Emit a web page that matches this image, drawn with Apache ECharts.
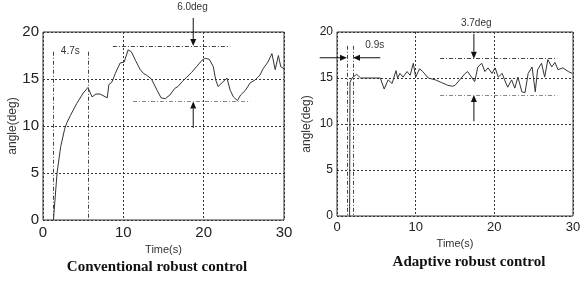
<!DOCTYPE html>
<html><head><meta charset="utf-8">
<script src="https://cdn.jsdelivr.net/npm/echarts@6/dist/echarts.min.js"></script>
<style>html,body{margin:0;padding:0;background:#fff}#c{width:585px;height:282px}</style>
</head><body><div id="c"></div>
<script>
// Conventional robust control (left)
const convT = [1.3,1.75,2.2,2.7,3.0,3.4,4.2,5.0,5.6,6.1,6.6,7.1,8.0,8.2,8.6,9.0,9.6,10.1,10.6,11.0,11.5,12.1,12.5,12.9,13.5,14.2,14.7,15.2,15.8,16.4,16.8,17.3,17.9,18.5,19.1,19.8,20.2,20.7,21.2,21.5,21.8,22.4,22.9,23.3,23.7,24.2,24.6,25.2,25.8,26.4,27.0,27.4,28.0,28.5,28.9,29.3,29.6,30.0];
const convA = [0,5,7.8,9.7,10.4,11.1,12.4,13.5,14.1,13.1,13.4,13.4,13.0,14.4,14.7,15.6,16.7,16.8,18.1,17.9,17.0,16.0,15.6,15.4,15.0,13.8,13.0,12.9,13.3,14.0,14.2,14.7,15.2,15.7,16.3,17.0,17.2,17.1,16.3,14.9,14.2,14.7,15.1,13.8,13.1,12.7,13.3,13.8,14.6,14.9,15.4,16.1,16.8,17.7,16.0,17.5,16.3,16.1];
// Adaptive robust control (right)
const adapT = [1.6,1.65,1.9,2.5,3.0,5.5,6.0,6.5,7.0,7.5,7.7,8.0,8.4,8.9,9.3,9.7,10.0,10.5,10.9,11.6,12.5,13.3,14.1,14.7,15.0,15.6,16.3,16.6,17.1,17.5,17.9,18.4,18.8,19.2,19.7,20.1,20.5,21.0,21.3,21.7,22.2,22.6,23.0,23.5,23.9,24.3,24.8,25.2,25.5,26.0,26.4,26.8,27.3,27.7,28.1,28.7,29.4,29.9];
const adapA = [0,14.5,15.0,15.4,15.0,15.0,13.8,14.8,14.4,15.8,15.0,15.5,15.1,15.7,15.3,16.6,15.1,16.0,15.7,15.0,14.8,14.5,14.2,14.1,14.2,14.8,15.5,15.7,15.1,14.6,16.2,16.6,15.7,16.1,15.5,16.1,15.1,15.5,14.8,14.0,14.8,13.9,15.1,13.5,13.4,15.5,16.2,13.5,15.9,16.6,15.1,17.0,16.2,16.7,15.9,16.1,15.7,15.5];
const xTicks = [0,10,20,30];
const yTicks = [0,5,10,15,20];
// annotation values
const convV = [1.3, 5.6], convVTop = 17.9;
const convH = [[18.5, 8.7, 23.3], [12.6, 11.2, 25.8]];
const convArrowX = 18.7, convArrowFrom = [21.5, 9.8];
const adapV = [1.27, 2.03], adapVTop = 18.5;
const adapH = [[17.1, 13.1, 28.0], [13.15, 13.1, 28.0]];
const adapArrowX = 17.4, adapArrowFrom = [19.8, 10.3];
const adapHArrowY = 17.2, adapHArrowFrom = [-2.2, 5.5];
// annotation texts: [text, x, y] in data units
const convNotes = [['4.7s', 3.4, 18.0], ['6.0deg', 18.6, 22.6]];
const adapNotes = [['0.9s', 4.8, 18.6], ['3.7deg', 17.7, 20.9]];

const ink = '#333';
const ff = 'Liberation Sans';
function xAxis(gi, fs) {
  return {gridIndex: gi, type: 'value', min: 0, max: 30, interval: 10,
    axisLine: {show: false}, axisTick: {show: false},
    axisLabel: {fontSize: fs, color: '#222', fontFamily: ff, margin: 5},
    splitLine: {show: true, lineStyle: {color: ink, type: [2, 2], width: 1}},
    name: 'Time(s)', nameLocation: 'middle', nameGap: gi === 0 ? 24 : 21,
    nameTextStyle: {fontSize: 11, color: '#333', fontFamily: ff}};
}
function yAxis(gi, fs) {
  return {gridIndex: gi, type: 'value', min: 0, max: 20, interval: 5,
    axisLine: {show: false}, axisTick: {show: false},
    axisLabel: {fontSize: fs, color: '#222', fontFamily: ff, margin: 4},
    splitLine: {show: true, lineStyle: {color: ink, type: [2, 2], width: 1}},
    name: 'angle(deg)', nameLocation: 'middle', nameGap: gi === 0 ? 23 : 24, nameRotate: 90,
    nameTextStyle: {fontSize: 12, color: '#333', fontFamily: ff}};
}
function annot(vx, vtop, hs) {
  const dd = [4, 2, 1, 2];
  const data = [];
  vx.forEach(x => data.push([{coord: [x, vtop], symbol: 'none', lineStyle: {type: dd, color: '#444'}}, {coord: [x, 0], symbol: 'none'}]));
  hs.forEach((h, i) => data.push([{coord: [h[1], h[0]], symbol: 'none', lineStyle: {type: dd, color: i === 0 ? '#444' : '#888'}}, {coord: [h[2], h[0]], symbol: 'none'}]));
  return {silent: true, symbol: 'none', label: {show: false}, animation: false, data: data};
}
const chart = echarts.init(document.getElementById('c'), null, {renderer: 'canvas'});
chart.setOption({
  animation: false,
  backgroundColor: '#fff',
  grid: [
    {left: 43, top: 32, width: 241, height: 188, show: true, borderColor: ink, borderWidth: 1, backgroundColor: 'transparent'},
    {left: 337, top: 32, width: 236, height: 184, show: true, borderColor: ink, borderWidth: 1, backgroundColor: 'transparent'}
  ],
  xAxis: [xAxis(0, 15), xAxis(1, 13)],
  yAxis: [yAxis(0, 15), yAxis(1, 12)],
  series: [
    {type: 'line', xAxisIndex: 0, yAxisIndex: 0, data: convT.map((t, i) => [t, convA[i]]), showSymbol: false,
      lineStyle: {color: ink, width: 1}, markLine: annot(convV, convVTop, convH)},
    {type: 'line', xAxisIndex: 1, yAxisIndex: 1, data: adapT.map((t, i) => [t, adapA[i]]), showSymbol: false,
      lineStyle: {color: ink, width: 1}, markLine: annot(adapV, adapVTop, adapH)}
  ]
});
// arrows and notes placed through the chart's own scales
function px(gi, v) { return chart.convertToPixel({gridIndex: gi}, v); }
function arrow(gi, from, to) {
  const a = px(gi, from), b = px(gi, to);
  const dx = b[0] - a[0], dy = b[1] - a[1], L = Math.hypot(dx, dy);
  const ux = dx / L, uy = dy / L, hl = 7, hw = 3;
  const bx = b[0] - ux * hl, by = b[1] - uy * hl;
  return [
    {type: 'line', shape: {x1: a[0], y1: a[1], x2: bx, y2: by}, style: {stroke: '#111', lineWidth: 1}, silent: true},
    {type: 'polygon', shape: {points: [[b[0], b[1]], [bx - uy * hw, by + ux * hw], [bx + uy * hw, by - ux * hw]]}, style: {fill: '#111'}, silent: true}
  ];
}
function note(gi, n) {
  const p = px(gi, [n[1], n[2]]);
  return {type: 'text', x: p[0], y: p[1], style: {text: n[0], fontSize: 10, fill: '#333', fontFamily: ff, align: 'center', verticalAlign: 'middle'}, silent: true};
}
let g = [];
g = g.concat(arrow(0, [convArrowX, convArrowFrom[0]], [convArrowX, convH[0][0]]));
g = g.concat(arrow(0, [convArrowX, convArrowFrom[1]], [convArrowX, convH[1][0]]));
g = g.concat(arrow(1, [adapArrowX, adapArrowFrom[0]], [adapArrowX, adapH[0][0]]));
g = g.concat(arrow(1, [adapArrowX, adapArrowFrom[1]], [adapArrowX, adapH[1][0]]));
g = g.concat(arrow(1, [adapHArrowFrom[0], adapHArrowY], [adapV[0], adapHArrowY]));
g = g.concat(arrow(1, [adapHArrowFrom[1], adapHArrowY], [adapV[1], adapHArrowY]));
convNotes.forEach(n => g.push(note(0, n)));
adapNotes.forEach(n => g.push(note(1, n)));
g.push({type: 'text', x: 157, y: 267, style: {text: 'Conventional robust control', fontSize: 15, fontWeight: 'bold', fill: '#111', fontFamily: 'Liberation Serif', align: 'center', verticalAlign: 'middle'}});
g.push({type: 'text', x: 469, y: 262, style: {text: 'Adaptive robust control', fontSize: 15, fontWeight: 'bold', fill: '#111', fontFamily: 'Liberation Serif', align: 'center', verticalAlign: 'middle'}});
chart.setOption({graphic: g});
</script></body></html>
